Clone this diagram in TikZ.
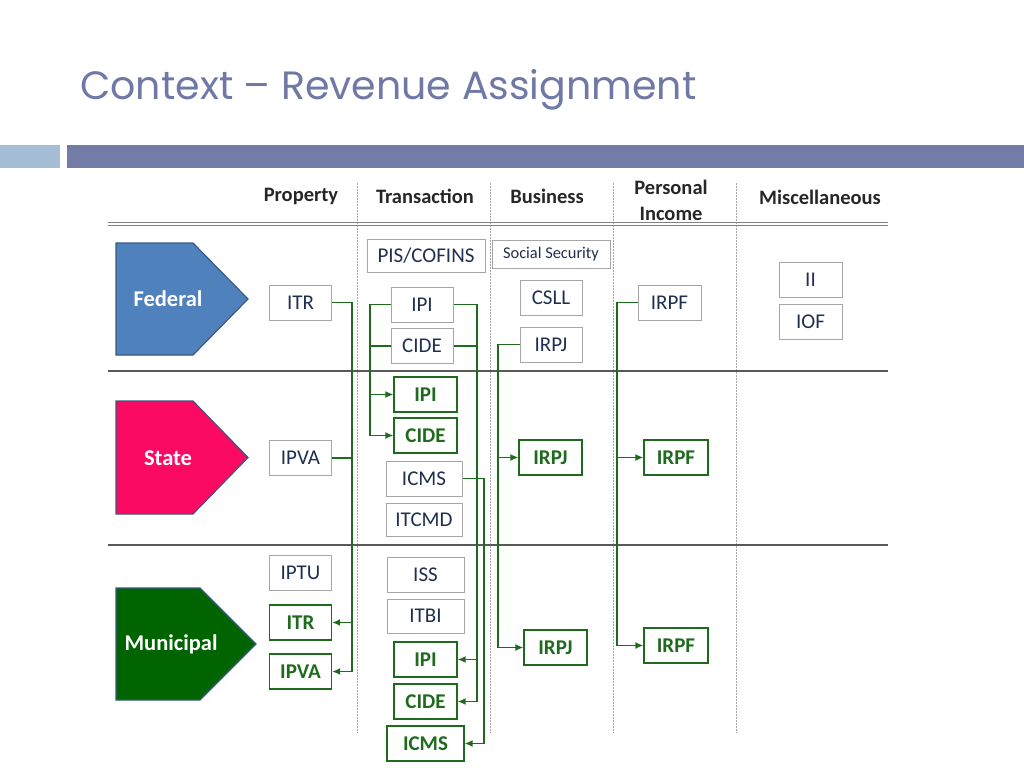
\documentclass[tikz,border=0pt]{standalone}
\usepackage{fontspec}
\setmainfont{Carlito}
\newfontfamily\titlefont{Poppins}
\usetikzlibrary{arrows.meta}
\definecolor{titleblue}{HTML}{7079A6}
\definecolor{barblue}{HTML}{737CA6}
\definecolor{barlight}{HTML}{A6BED5}
\definecolor{fedblue}{HTML}{4F81BD}
\definecolor{statepink}{HTML}{FA0A62}
\definecolor{munigreen}{HTML}{006400}
\definecolor{shapeedge}{HTML}{3A5A80}
\definecolor{gtext}{HTML}{1E6B1E}
\definecolor{btext}{HTML}{1F2F4F}
\definecolor{boxgray}{HTML}{A6A6A6}
\definecolor{rulegray}{HTML}{595959}
\tikzset{
  tbox/.style={draw=boxgray, line width=1pt, fill=white, text=btext, font=\fontsize{21}{23}\selectfont, inner sep=0pt, minimum width=62pt, minimum height=35pt},
  gbox/.style={draw=gtext, line width=1.3pt, fill=white, text=gtext, font=\bfseries\fontsize{21}{23}\selectfont, inner sep=0pt, minimum width=62pt, minimum height=35pt},
  head/.style={font=\bfseries\fontsize{20.5}{26}\selectfont, text=black!85, align=center},
  conn/.style={draw=gtext, line width=1.4pt},
  arr/.style={conn, -{Latex[length=8pt,width=7pt]}},
  sep/.style={draw=gray!70, line width=0.8pt, dash pattern=on 1.5pt off 1.5pt},
  hrule/.style={draw=rulegray, line width=1.5pt},
  lvl/.style={draw=shapeedge, line width=1.2pt},
  lvltext/.style={text=white, font=\bfseries\fontsize{22.5}{25}\selectfont}
}
\begin{document}
\begin{tikzpicture}[x=1pt,y=-1pt]
\useasboundingbox (0,0) rectangle (1024,768);
% title
\node[anchor=base west, inner sep=0pt, text=titleblue, font=\titlefont\fontsize{39.5}{42}\selectfont] (title) at (80,99) {Context – Revenue Assignment};
% bars
\fill[barlight] (0,145) rectangle (60,168);
\fill[barblue] (67,145) rectangle (1024,168);
% headers
\node[head] (hP) at (301,196) {Property};
\node[head] (hT) at (425,196) {Transaction};
\node[head] (hB) at (547,196) {Business};
\node[head] (hI) at (671,200) {Personal\\Income};
\node[head] (hM) at (820,197) {Miscellaneous};
% separators
\foreach \x in {357,490,613,736} \draw[sep] (\x,183) -- (\x,733);
\draw[draw=gray, line width=1pt] (108,222) -- (888,222) (108,225.5) -- (888,225.5);
\draw[hrule] (108,371) -- (888,371);
\draw[hrule] (108,545) -- (888,545);
% level shapes
\fill[fedblue] (116,243) -- (193,243) -- (248,299) -- (193,355) -- (116,355) -- cycle;
\draw[lvl] (116,243) -- (193,243) -- (248,299) -- (193,355) -- (116,355) -- cycle;
\node[lvltext] (fed) at (168,299) {Federal};
\fill[statepink] (116,401) -- (193,401) -- (248,457.5) -- (193,514) -- (116,514) -- cycle;
\draw[lvl] (116,401) -- (193,401) -- (248,457.5) -- (193,514) -- (116,514) -- cycle;
\node[lvltext] (sta) at (168,458) {State};
\fill[munigreen] (116,588) -- (200,588) -- (256,644) -- (200,700) -- (116,700) -- cycle;
\draw[lvl] (116,588) -- (200,588) -- (256,644) -- (200,700) -- (116,700) -- cycle;
\node[lvltext] (mun) at (171,644) {Municipal};
% property
\node[tbox] (itrF) at (300.5,302.5) {ITR};
\node[tbox] (ipvaS) at (300.5,458) {IPVA};
\node[tbox] (iptu) at (300.5,572.5) {IPTU};
\node[gbox] (itrM) at (300.5,622.5) {ITR};
\node[gbox] (ipvaM) at (300.5,671.5) {IPVA};
% transaction
\node[tbox, minimum width=118pt, minimum height=33pt] (pis) at (426,255.5) {PIS/COFINS};
\node[tbox] (ipiF) at (422,304.5) {IPI};
\node[tbox] (cideF) at (422,346) {CIDE};
\node[gbox, minimum width=63pt] (ipiS) at (425.5,394.5) {IPI};
\node[gbox, minimum width=63pt] (cideS) at (425.5,435.5) {CIDE};
\node[tbox, minimum width=76pt] (icmsS) at (424,478.5) {ICMS};
\node[tbox, minimum width=76pt, minimum height=33pt] (itcmd) at (424,519.5) {ITCMD};
\node[tbox, minimum width=77pt] (iss) at (425.5,574.5) {ISS};
\node[tbox, minimum width=77pt, minimum height=34pt] (itbi) at (425.5,616) {ITBI};
\node[gbox, minimum width=63pt] (ipiM) at (425.5,659.5) {IPI};
\node[gbox, minimum width=63pt] (cideM) at (425.5,701.5) {CIDE};
\node[gbox, minimum width=77pt] (icmsM) at (425.5,743.5) {ICMS};
% business
\node[tbox, minimum width=118pt, minimum height=28pt, font=\fontsize{16.4}{18}\selectfont] (soc) at (551,254) {Social Security};
\node[tbox] (csll) at (551,297.5) {CSLL};
\node[tbox] (irpjF) at (551,344.5) {IRPJ};
\node[gbox, minimum width=63pt] (irpjS) at (550.5,457.5) {IRPJ};
\node[gbox, minimum width=63pt] (irpjM) at (555.5,647.5) {IRPJ};
% personal income
\node[tbox, minimum width=63pt] (irpfF) at (669.5,302.5) {IRPF};
\node[gbox, minimum width=64pt] (irpfS) at (676,457.5) {IRPF};
\node[gbox, minimum width=64pt] (irpfM) at (676,645.5) {IRPF};
% misc
\node[tbox, minimum width=63pt] (ii) at (810.5,279.5) {II};
\node[tbox, minimum width=63pt] (iof) at (810.5,321.5) {IOF};
% bus coordinates
\coordinate (busP) at (352,0);
\coordinate (busTL) at (370,0);
\coordinate (busTR) at (477,0);
\coordinate (busIC) at (484,0);
\coordinate (busB) at (498,0);
\coordinate (busI) at (617,0);
% connectors
\draw[arr] (itrF.east) -- (itrF.east -| busP) -- (busP |- itrM.east) -- (itrM.east);
\draw[arr] (ipvaS.east) -- (ipvaS.east -| busP) -- (busP |- ipvaM.east) -- (ipvaM.east);
\draw[arr] (ipiF.west) -- (ipiF.west -| busTL) -- (busTL |- cideS.west) -- (cideS.west);
\draw[conn] (cideF.west) -- (cideF.west -| busTL);
\draw[arr] (busTL |- ipiS.west) -- (ipiS.west);
\draw[arr] (ipiF.east) -- (ipiF.east -| busTR) -- (busTR |- cideM.east) -- (cideM.east);
\draw[conn] (cideF.east) -- (cideF.east -| busTR);
\draw[arr] (busTR |- ipiM.east) -- (ipiM.east);
\draw[arr] (icmsS.east) -- (icmsS.east -| busIC) -- (busIC |- icmsM.east) -- (icmsM.east);
\draw[arr] (irpjF.west) -- (irpjF.west -| busB) -- (busB |- irpjM.west) -- (irpjM.west);
\draw[arr] (busB |- irpjS.west) -- (irpjS.west);
\draw[arr] (irpfF.west) -- (irpfF.west -| busI) -- (busI |- irpfM.west) -- (irpfM.west);
\draw[arr] (busI |- irpfS.west) -- (irpfS.west);
\end{tikzpicture}
\end{document}
